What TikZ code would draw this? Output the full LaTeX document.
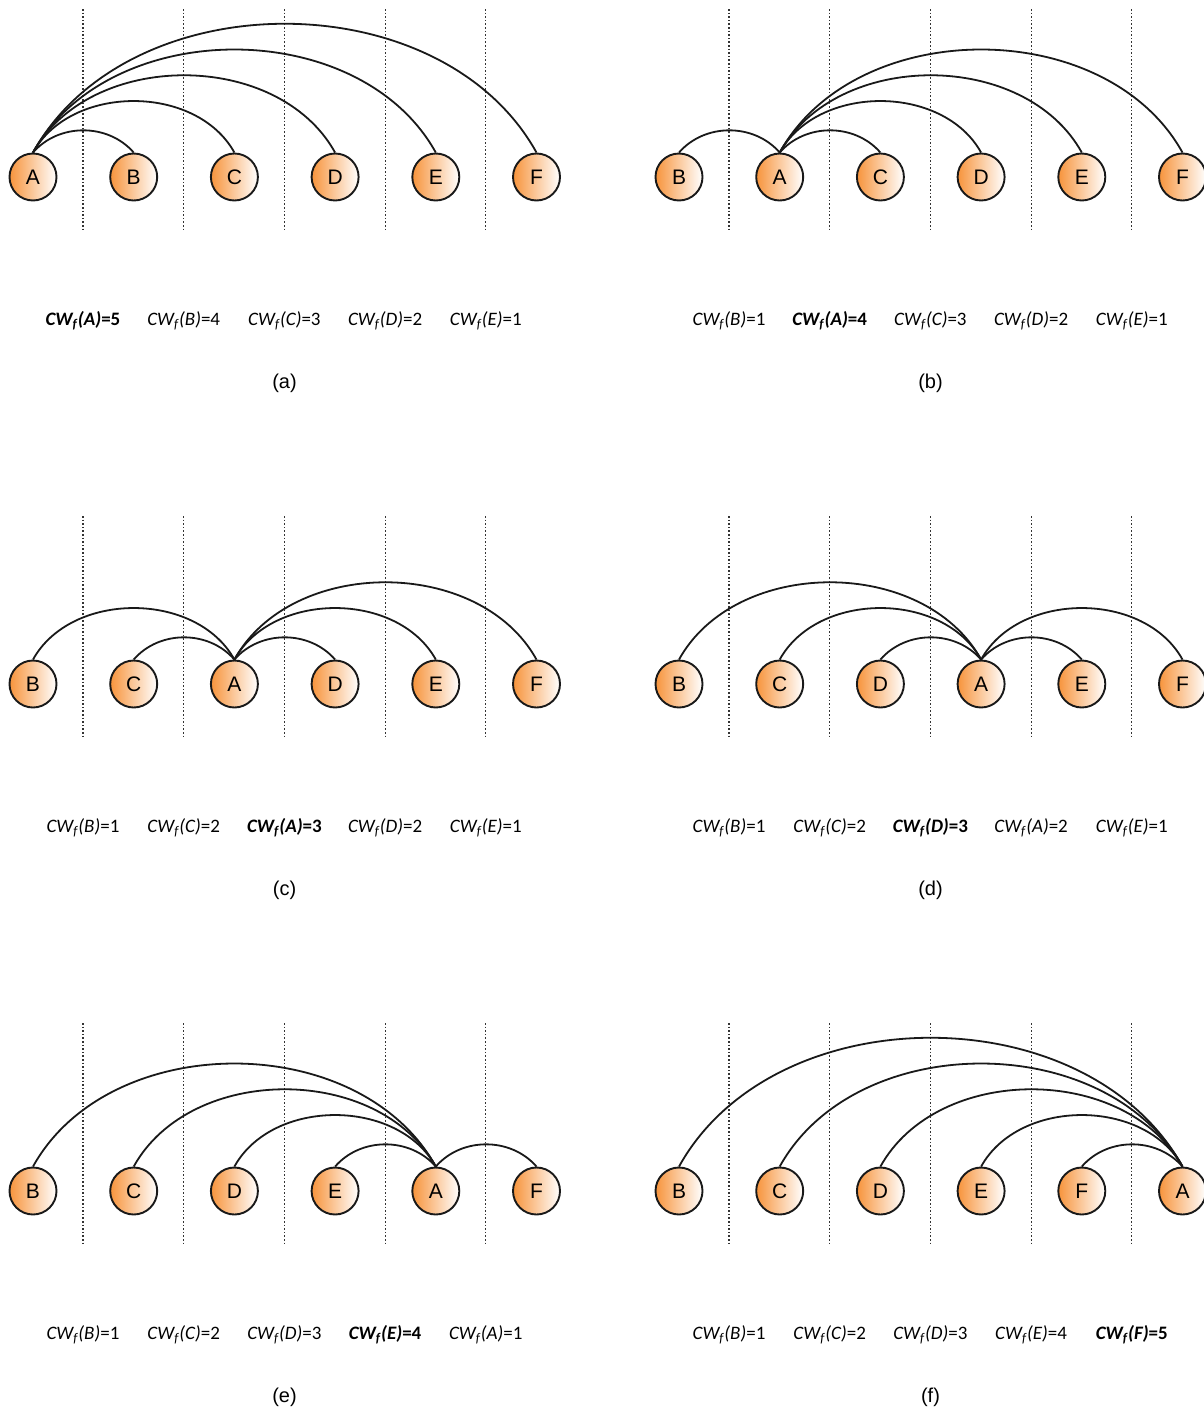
\documentclass[tikz,border=0pt]{standalone}
\usepackage{fontspec}
\setmainfont{Carlito}
\newfontfamily\arialfont{Liberation Sans}
\definecolor{vtxorange}{RGB}{247,148,60}
\usetikzlibrary{positioning}
\newcommand{\cwl}[2]{\textit{CW\textsubscript{f}(#1)}=#2}

\begin{document}
\begin{tikzpicture}[x=0.5pt,y=-0.5pt,
          vtx/.style={circle,draw=black!90,line width=0.95pt,left color=vtxorange,right color=white,
                      minimum size=23.5pt,inner sep=0pt,font=\arialfont\fontsize{10.5}{12}\selectfont},
          arc/.style={draw=black!90,line width=0.9pt,bend left=61},
          near/.style={bend left=49},
          sep/.style={draw=black!80,line width=0.55pt,dash pattern=on 0.75pt off 1.05pt},
          cw/.style={font=\fontsize{9.5}{11}\selectfont},
          panelcap/.style={font=\arialfont\fontsize{10}{12}\selectfont}]
        \useasboundingbox (0,0) rectangle (1204,1414);
        % six panels: name / left x / row y / order of nodes / weights
        \foreach \p/\px/\py/\ord/\labs in {
            a/33/177/{A,B,C,D,E,F}/{\textbf{\cwl{A}{5}},\cwl{B}{4},\cwl{C}{3},\cwl{D}{2},\cwl{E}{1}},
            b/679/177/{B,A,C,D,E,F}/{\cwl{B}{1},\textbf{\cwl{A}{4}},\cwl{C}{3},\cwl{D}{2},\cwl{E}{1}},
            c/33/684/{B,C,A,D,E,F}/{\cwl{B}{1},\cwl{C}{2},\textbf{\cwl{A}{3}},\cwl{D}{2},\cwl{E}{1}},
            d/679/684/{B,C,D,A,E,F}/{\cwl{B}{1},\cwl{C}{2},\textbf{\cwl{D}{3}},\cwl{A}{2},\cwl{E}{1}},
            e/33/1191/{B,C,D,E,A,F}/{\cwl{B}{1},\cwl{C}{2},\cwl{D}{3},\textbf{\cwl{E}{4}},\cwl{A}{1}},
            f/679/1191/{B,C,D,E,F,A}/{\cwl{B}{1},\cwl{C}{2},\cwl{D}{3},\cwl{E}{4},\textbf{\cwl{F}{5}}}} {
          \foreach \i in {0,...,4}
            \draw[sep] (\px+50+\i*100.7,\py-168) -- (\px+50+\i*100.7,\py+53);
          \foreach \l [count=\i from 0] in \ord
            \node[vtx] (\p-\l) at (\px+\i*100.7,\py) {\l};
          \foreach \w [count=\i from 0] in \labs
            \node[cw] (\p-w\i) at (\px+50+\i*100.7,\py+144) {\w};
          \node[panelcap] (\p-cap) at (\px+251.5,\py+206) {(\p)};
        }
        % arcs, always drawn from the left node to the right one
        \draw[arc,near] (a-A.north) to (a-B.north);
        \foreach \t in {C,D,E,F} \draw[arc] (a-A.north) to (a-\t.north);
        \draw[arc,near] (b-B.north) to (b-A.north);
        \draw[arc,near] (b-A.north) to (b-C.north);
        \foreach \t in {D,E,F} \draw[arc] (b-A.north) to (b-\t.north);
        \draw[arc] (c-B.north) to (c-A.north);
        \draw[arc,near] (c-C.north) to (c-A.north);
        \draw[arc,near] (c-A.north) to (c-D.north);
        \foreach \t in {E,F} \draw[arc] (c-A.north) to (c-\t.north);
        \foreach \t in {B,C} \draw[arc] (d-\t.north) to (d-A.north);
        \draw[arc,near] (d-D.north) to (d-A.north);
        \draw[arc,near] (d-A.north) to (d-E.north);
        \draw[arc] (d-A.north) to (d-F.north);
        \foreach \t in {B,C,D} \draw[arc] (e-\t.north) to (e-A.north);
        \draw[arc,near] (e-E.north) to (e-A.north);
        \draw[arc,near] (e-A.north) to (e-F.north);
        \foreach \t in {B,C,D,E} \draw[arc] (f-\t.north) to (f-A.north);
        \draw[arc,near] (f-F.north) to (f-A.north);
\end{tikzpicture}
\end{document}
